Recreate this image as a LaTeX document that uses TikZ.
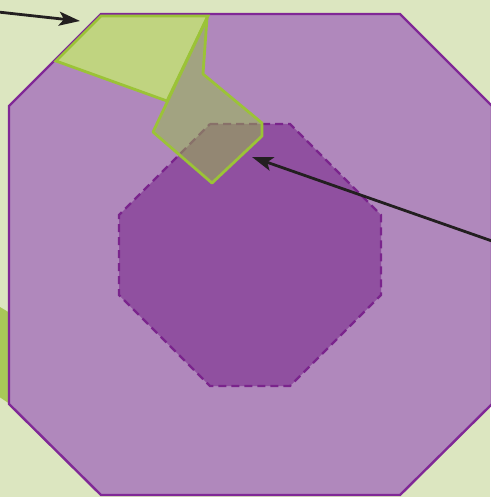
\documentclass[tikz,border=0pt]{standalone}
\usetikzlibrary{arrows.meta}
\definecolor{bg}{RGB}{220,230,192}
\definecolor{outerfill}{RGB}{176,136,188}
\definecolor{outerline}{RGB}{128,40,150}
\definecolor{innerfill}{RGB}{144,80,160}
\definecolor{innerline}{RGB}{122,36,140}
\definecolor{greenfill}{RGB}{192,212,128}
\definecolor{greenline}{RGB}{155,195,55}
\definecolor{greenside}{RGB}{168,200,88}
\definecolor{glass}{RGB}{150,190,72}
\definecolor{arrowc}{RGB}{35,31,32}
\tikzset{
  outeroct/.style={fill=outerfill,draw=outerline,line width=2.4pt,line join=miter},
  inneroct/.style={fill=innerfill,draw=innerline,line width=2.4pt,dash pattern=on 8pt off 5pt},
  greenpoly/.style={fill=greenfill,draw=greenline,line width=2.8pt,line join=miter},
  glasspoly/.style={fill=glass,fill opacity=0.5,draw=greenline,line width=2.8pt,line join=bevel},
  pointer/.style={draw=arrowc,line width=2.8pt,-{Stealth[length=21pt,width=14pt,inset=5pt]}}
}
\begin{document}
\begin{tikzpicture}[x=1pt,y=-1pt]
\useasboundingbox (0,0) rectangle (490,497);
\fill[bg] (0,0) rectangle (490,497);
% side green shape
\fill[greenside] (-5,304) -- (10,313) -- (10,404) -- (-5,394) -- cycle;
% outer octagon
\draw[outeroct] (101,14) -- (400,14) -- (492,106) -- (492,404) -- (400,495) -- (101,495) -- (9,404) -- (9,106) -- cycle;
% inner octagon
\draw[inneroct] (210,124) -- (290,124) -- (381,215) -- (381,295) -- (290,386) -- (210,386) -- (119,295) -- (119,215) -- cycle;
% green polygons
\draw[greenpoly] (56,61) -- (101,16) -- (208,16) -- (167,101) -- cycle;
\draw[glasspoly] (207,18) -- (203,74) -- (262,123) -- (262,136) -- (212,183) -- (153,132) -- cycle;
% arrows
\coordinate (a1s) at (-2,12);
\coordinate (a1e) at (80,21);
\coordinate (a2s) at (492,241);
\coordinate (a2e) at (252,157);
\draw[pointer] (a1s) -- (a1e);
\draw[pointer] (a2s) -- (a2e);
\end{tikzpicture}
\end{document}
